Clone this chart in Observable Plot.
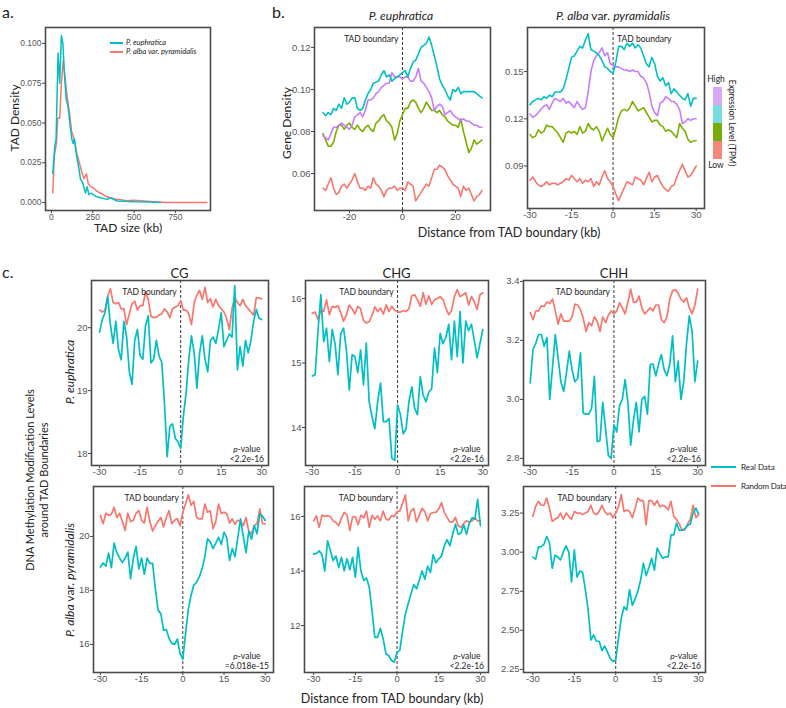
<!DOCTYPE html>
<html><head><meta charset="utf-8">
<script src="https://cdn.jsdelivr.net/npm/d3@7"></script>
<script src="https://cdn.jsdelivr.net/npm/@observablehq/plot@0.6"></script>
<style>
body{margin:0;background:#fff;}
#root{position:relative;width:786px;height:708px;overflow:hidden;font-family:Lato,'Open Sans',sans-serif;color:#222;background:#fff;}
.abs{position:absolute;white-space:nowrap;line-height:1;}
</style></head><body><div id="root"></div>
<script>
// ---------- DATA ----------
const dist = [-30,-29,-28,-27,-26,-25,-24,-23,-22,-21,-20,-19,-18,-17,-16,-15,-14,-13,-12,-11,-10,-9,-8,-7,-6,-5,-4,-3,-2,-1,0,1,2,3,4,5,6,7,8,9,10,11,12,13,14,15,16,17,18,19,20,21,22,23,24,25,26,27,28,29,30];

// panel a: TAD size distribution
const aEuSize = [8,20,28,40,50,60,69,79,89,101,111,123,131,139,151,165,175,190,206,216,226,240,266,296,337,357,397,498,599,659];
const aEuDens = [0.018,0.035,0.040,0.094,0.075,0.105,0.100,0.080,0.065,0.060,0.050,0.040,0.037,0.040,0.030,0.022,0.015,0.012,0.006,0.010,0.005,0.006,0.004,0.003,0.002,0.003,0.001,0.0005,0.0003,0.0001];
const aAlSize = [8,18,30,38,50,60,71,81,91,101,111,121,131,141,155,169,181,196,212,222,236,256,276,296,327,357,397,458,498,558,619,700,800,940];
const aAlDens = [0.006,0.030,0.037,0.053,0.053,0.075,0.089,0.080,0.070,0.062,0.055,0.045,0.042,0.038,0.030,0.025,0.020,0.015,0.018,0.012,0.010,0.009,0.007,0.006,0.004,0.003,0.002,0.0012,0.0015,0.001,0.0005,0,0,0];

// panel b: gene density by expression level
const bEuHigh = [0.078,0.077,0.076,0.079,0.082,0.082,0.083,0.084,0.083,0.082,0.081,0.083,0.087,0.088,0.089,0.087,0.090,0.095,0.095,0.096,0.098,0.099,0.101,0.102,0.103,0.103,0.108,0.106,0.106,0.106,0.105,0.106,0.106,0.104,0.104,0.106,0.110,0.104,0.103,0.101,0.099,0.096,0.090,0.092,0.093,0.092,0.088,0.089,0.090,0.088,0.087,0.086,0.085,0.086,0.085,0.085,0.084,0.083,0.083,0.082,0.082];
const bEuMidHigh = [0.089,0.0875,0.089,0.088,0.091,0.090,0.093,0.091,0.096,0.093,0.094,0.096,0.096,0.091,0.090,0.091,0.095,0.098,0.100,0.103,0.1035,0.104,0.107,0.109,0.106,0.107,0.104,0.105,0.106,0.107,0.108,0.109,0.106,0.110,0.113,0.114,0.117,0.120,0.121,0.122,0.125,0.121,0.116,0.111,0.105,0.102,0.100,0.097,0.095,0.100,0.099,0.101,0.098,0.099,0.099,0.099,0.099,0.099,0.098,0.097,0.096];
const bEuMidLow = [0.079,0.076,0.073,0.073,0.075,0.080,0.083,0.083,0.081,0.083,0.084,0.082,0.081,0.083,0.081,0.080,0.082,0.083,0.081,0.080,0.084,0.085,0.087,0.088,0.085,0.084,0.082,0.076,0.079,0.085,0.088,0.091,0.091,0.094,0.095,0.094,0.091,0.089,0.091,0.094,0.092,0.090,0.090,0.089,0.090,0.088,0.087,0.085,0.084,0.083,0.083,0.082,0.086,0.080,0.075,0.070,0.072,0.076,0.074,0.075,0.076];
const bEuLow = [0.053,0.052,0.055,0.058,0.053,0.050,0.051,0.054,0.055,0.053,0.055,0.057,0.060,0.056,0.053,0.053,0.052,0.054,0.053,0.058,0.055,0.054,0.052,0.049,0.052,0.053,0.053,0.054,0.052,0.053,0.053,0.052,0.056,0.055,0.054,0.047,0.049,0.051,0.053,0.055,0.054,0.058,0.062,0.062,0.064,0.063,0.062,0.059,0.057,0.055,0.054,0.053,0.049,0.054,0.052,0.053,0.050,0.047,0.049,0.050,0.052];

const bAlHigh = [0.123,0.121,0.122,0.124,0.126,0.128,0.129,0.126,0.130,0.133,0.132,0.131,0.133,0.130,0.131,0.129,0.127,0.131,0.128,0.126,0.127,0.137,0.150,0.157,0.160,0.162,0.165,0.160,0.162,0.155,0.154,0.153,0.153,0.152,0.151,0.151,0.150,0.151,0.150,0.150,0.147,0.146,0.143,0.137,0.128,0.124,0.122,0.130,0.131,0.134,0.133,0.131,0.131,0.129,0.126,0.117,0.118,0.120,0.119,0.120,0.120];
const bAlMidHigh = [0.129,0.131,0.132,0.133,0.132,0.134,0.133,0.135,0.134,0.137,0.137,0.137,0.139,0.145,0.152,0.159,0.160,0.163,0.166,0.165,0.170,0.174,0.164,0.163,0.162,0.160,0.157,0.153,0.152,0.150,0.149,0.156,0.166,0.166,0.164,0.168,0.166,0.168,0.165,0.167,0.165,0.160,0.155,0.153,0.159,0.155,0.147,0.144,0.146,0.141,0.143,0.136,0.139,0.137,0.135,0.133,0.132,0.136,0.128,0.133,0.133];
const bAlMidLow = [0.110,0.108,0.109,0.113,0.111,0.112,0.116,0.115,0.115,0.113,0.111,0.108,0.105,0.111,0.112,0.111,0.112,0.110,0.115,0.111,0.112,0.117,0.114,0.113,0.115,0.112,0.106,0.110,0.114,0.110,0.108,0.114,0.121,0.125,0.126,0.125,0.127,0.131,0.128,0.125,0.126,0.127,0.124,0.121,0.118,0.119,0.119,0.116,0.115,0.112,0.113,0.112,0.110,0.108,0.117,0.114,0.112,0.107,0.105,0.106,0.106];
const bAlLow = [0.081,0.083,0.080,0.078,0.077,0.078,0.080,0.078,0.079,0.079,0.078,0.079,0.080,0.082,0.081,0.084,0.082,0.080,0.082,0.079,0.081,0.080,0.082,0.077,0.080,0.078,0.083,0.087,0.082,0.080,0.077,0.072,0.068,0.072,0.076,0.080,0.079,0.078,0.083,0.082,0.081,0.078,0.082,0.086,0.080,0.083,0.084,0.080,0.077,0.075,0.074,0.077,0.078,0.083,0.087,0.091,0.087,0.083,0.084,0.087,0.090];

// panel c: DNA methylation (real vs random)
const cEuCGReal = [19.93,20.13,20.24,20.50,20.05,19.75,20.10,19.65,19.49,20.10,19.85,19.30,19.10,19.80,19.97,19.55,19.50,20.03,20.19,19.44,19.50,19.80,19.55,19.45,18.80,17.95,18.43,18.47,18.24,18.19,18.08,18.60,18.96,19.50,19.87,19.60,19.04,19.60,19.87,19.50,19.30,19.80,19.85,19.75,19.97,20.24,19.70,19.80,19.90,19.85,20.67,19.33,19.70,19.39,19.80,19.60,19.80,20.10,20.29,20.15,20.13];
const cEuCGRand = [20.28,20.25,20.28,20.50,20.62,20.40,20.38,20.40,20.30,20.30,20.05,20.22,20.38,20.42,20.28,20.35,20.35,20.57,20.45,20.18,20.16,20.17,20.20,20.22,20.30,20.25,20.16,20.30,20.33,20.35,20.43,20.28,20.28,20.22,20.05,20.40,20.52,20.59,20.45,20.64,20.40,20.46,20.33,20.45,20.35,20.30,20.25,20.15,19.97,20.30,20.48,20.40,20.35,20.45,20.35,20.30,20.25,20.20,20.48,20.47,20.46];
const cEuCHGReal = [14.80,14.82,15.50,16.06,15.33,15.54,15.02,15.52,15.30,14.82,15.46,15.54,15.20,14.58,15.13,15.10,14.85,15.20,14.66,15.31,14.40,14.17,13.98,14.40,14.69,14.09,14.09,14.14,13.52,13.49,14.35,14.20,13.90,13.98,14.40,14.63,14.30,14.20,14.79,14.50,14.40,14.55,14.60,15.23,14.85,15.46,15.30,15.40,15.60,15.05,15.65,15.10,15.80,15.00,15.65,15.50,15.60,15.35,15.08,15.30,15.52];
const cEuCHGRand = [15.77,15.79,15.67,15.82,15.80,15.98,15.75,15.88,15.86,15.89,15.78,15.65,15.75,15.90,15.84,15.76,15.88,15.84,15.66,15.62,15.64,15.74,15.87,15.80,15.85,15.76,15.90,15.80,15.88,15.82,15.79,15.79,15.81,15.80,15.84,16.04,16.06,15.98,15.88,16.09,15.91,16.04,15.91,15.98,16.00,16.03,15.98,15.85,15.75,15.81,16.03,16.14,16.03,16.06,16.09,15.90,16.03,15.95,15.83,16.06,16.09];
const cEuCHHReal = [3.056,3.17,3.19,3.22,3.22,3.18,3.21,3.00,3.11,3.22,3.14,3.06,3.027,3.09,3.164,3.10,3.06,3.07,3.158,2.953,2.95,2.95,2.97,3.078,2.857,2.86,2.99,2.90,2.81,2.80,2.914,2.89,2.98,3.00,3.067,2.99,2.845,2.93,2.99,2.89,3.00,3.01,2.95,3.118,3.12,3.08,3.12,3.152,3.10,3.08,3.12,3.215,3.06,3.13,3.00,3.06,3.19,3.283,3.23,3.06,3.13];
const cEuCHHRand = [3.294,3.27,3.30,3.30,3.317,3.315,3.33,3.325,3.34,3.30,3.255,3.29,3.265,3.265,3.265,3.28,3.323,3.32,3.305,3.275,3.23,3.26,3.25,3.28,3.265,3.23,3.28,3.26,3.285,3.30,3.29,3.30,3.328,3.31,3.29,3.33,3.374,3.33,3.33,3.35,3.31,3.29,3.30,3.31,3.30,3.32,3.32,3.27,3.26,3.28,3.34,3.368,3.372,3.36,3.34,3.33,3.345,3.31,3.29,3.32,3.374];

const cAlCGReal = [18.87,19.02,18.90,19.38,18.84,19.75,19.40,19.20,19.03,19.20,19.42,18.44,19.20,19.63,18.80,19.20,18.60,19.20,19.00,19.00,18.07,17.27,17.14,16.53,16.55,16.22,16.04,16.00,16.20,15.67,15.45,16.40,17.30,17.82,18.20,18.30,18.50,18.80,19.24,19.91,19.80,19.55,19.75,19.97,19.70,20.16,19.95,19.11,19.55,19.25,19.95,20.65,20.00,19.40,20.20,19.90,20.40,20.10,20.84,20.75,20.59];
const cAlCGRand = [20.78,20.47,20.86,20.78,20.82,21.08,20.70,20.86,20.56,20.22,20.86,20.55,20.60,20.86,20.96,20.60,20.50,21.08,20.56,20.20,20.40,20.56,20.70,20.35,20.70,20.96,20.47,20.60,20.66,20.40,20.90,21.20,21.54,21.15,21.30,20.70,20.65,20.65,21.20,20.90,20.95,20.28,20.55,21.20,20.85,20.90,20.85,20.50,20.65,20.45,20.60,20.56,20.40,20.70,20.20,20.10,20.40,20.47,21.02,20.47,20.47];
const cAlCHGReal = [14.62,14.65,14.74,14.60,14.00,15.11,14.75,14.38,14.55,14.13,14.50,14.01,14.45,14.05,14.50,13.77,14.87,14.00,13.65,13.75,13.40,12.55,11.57,11.57,11.90,11.51,10.96,10.90,10.72,10.66,11.02,11.10,11.80,12.43,12.80,13.16,13.50,13.35,13.65,14.01,13.70,14.18,13.95,14.60,14.30,14.45,14.55,14.93,15.15,14.93,15.35,15.72,15.35,15.40,15.70,15.35,15.75,15.96,15.90,16.63,15.66];
const cAlCHGRand = [15.84,16.02,15.60,16.05,16.00,16.03,16.00,15.84,15.78,15.66,15.95,16.15,16.05,15.48,15.98,16.00,15.70,16.05,15.95,16.20,15.60,16.05,15.90,16.02,15.84,16.20,15.90,15.87,16.03,16.00,16.18,16.20,16.50,16.79,15.84,16.20,16.30,15.80,16.05,16.30,16.18,15.84,16.10,16.15,16.15,16.28,16.51,16.15,15.97,15.80,15.80,15.97,15.66,15.60,15.75,15.84,15.80,15.84,15.95,15.84,15.84];
const cAlCHHReal = [2.968,2.955,3.032,3.035,3.05,3.10,3.06,2.897,2.98,2.97,2.95,3.00,3.04,3.00,2.81,3.015,2.84,2.88,2.87,2.76,2.63,2.438,2.47,2.43,2.43,2.37,2.40,2.36,2.32,2.30,2.31,2.45,2.577,2.65,2.63,2.76,2.66,2.70,2.75,2.82,2.93,2.85,2.90,2.96,2.885,3.026,2.99,2.96,2.97,2.97,3.11,3.11,3.186,3.14,3.14,3.15,3.17,3.18,3.25,3.282,3.245];
const cAlCHHRand = [3.229,3.293,3.325,3.30,3.30,3.346,3.28,3.197,3.21,3.22,3.25,3.21,3.25,3.23,3.21,3.26,3.25,3.25,3.24,3.25,3.26,3.30,3.25,3.24,3.26,3.30,3.26,3.24,3.25,3.22,3.25,3.29,3.368,3.26,3.27,3.26,3.22,3.28,3.346,3.33,3.33,3.175,3.33,3.33,3.30,3.33,3.29,3.30,3.29,3.27,3.325,3.23,3.21,3.18,3.143,3.143,3.18,3.21,3.30,3.22,3.24];

const pValues = ["<2.2e-16","<2.2e-16","<2.2e-16","=6.018e-15","<2.2e-16","<2.2e-16"];
const contexts = ["CG","CHG","CHH"];
const tadLabel = "TAD boundary";

// ---------- STYLE ----------
const CYAN = "#00BFC4", RED = "#F8766D", PURPLE = "#C77CFF", GREEN = "#7CAE00";
const SANS = "'Liberation Sans', Arial, sans-serif";
const CAL = "Lato, 'Open Sans', sans-serif";
const root = document.getElementById("root");

function html(str, x, y, css) {
  const d = document.createElement("div");
  d.className = "abs";
  d.style.left = x + "px"; d.style.top = y + "px";
  d.style.cssText += css || "";
  d.innerHTML = str;
  root.appendChild(d);
  return d;
}
const center = "transform:translate(-50%,-50%);";

function panel(o) {
  const mL = 40, mR = 6, mT = 6, mB = 22;
  const w = o.fr - o.fl, h = o.fb - o.ft;
  const marks = [];
  if (o.boundary) marks.push(Plot.ruleX([0], {stroke: "#222", strokeWidth: 0.9, strokeDasharray: "3,2"}));
  o.series.forEach(s => marks.push(Plot.line(s.y, {x: s.x, y: s.y, stroke: s.color, strokeWidth: o.lw || 1.6})));
  if (o.boundary) marks.push(Plot.text([tadLabel], {x: [0], frameAnchor: "top",
    textAnchor: o.boundary === "right" ? "start" : "end", dx: o.boundary === "right" ? 4 : -4, dy: 8,
    fontSize: 8.5, fontFamily: CAL, fill: "#222"}));
  marks.push(Plot.axisX({ticks: o.xTicks, tickFormat: d => String(d), tickSize: 3, tickPadding: 0,
    fontSize: o.fs, fontFamily: SANS, fill: "#555", stroke: "#444", label: null}));
  marks.push(Plot.axisY({ticks: o.yTicks, tickFormat: d => d.toFixed(o.yDec), tickSize: 3, tickPadding: 1,
    fontSize: o.fs, fontFamily: SANS, fill: "#555", stroke: "#444", label: null}));
  marks.push(Plot.frame({stroke: "#4a4a4a", strokeWidth: 1.6}));
  const svg = Plot.plot({
    width: w + mL + mR, height: h + mT + mB,
    marginLeft: mL, marginRight: mR, marginTop: mT, marginBottom: mB,
    x: {domain: o.xDomain}, y: {domain: o.yDomain},
    style: {background: "transparent", overflow: "visible", fontFamily: SANS},
    marks
  });
  const d = document.createElement("div");
  d.style.position = "absolute";
  d.style.left = (o.fl - mL) + "px"; d.style.top = (o.ft - mT) + "px";
  d.appendChild(svg);
  root.appendChild(d);
}

// ---------- PANEL A ----------
panel({fl: 45, fr: 210, ft: 27, fb: 210, xDomain: [-36, 962], yDomain: [-0.005, 0.110],
  xTicks: [0, 250, 500, 750], yTicks: [0, 0.025, 0.05, 0.075, 0.1], yDec: 3, fs: 8.5, lw: 1.5,
  series: [{x: aAlSize, y: aAlDens, color: RED}, {x: aEuSize, y: aEuDens, color: CYAN}]});
html("a.", 2, 4, "font-size:16px;");
html("TAD Density", 15, 118, "transform:translate(-50%,-50%) rotate(-90deg);font-size:12px;");
html("TAD size (kb)", 128, 228, center + "font-size:12px;");
// legend a
html("", 110, 42, "width:13px;border-top:2px solid " + CYAN + ";");
html("", 110, 51, "width:13px;border-top:2px solid " + RED + ";");
html("<i>P. euphratica</i>", 126, 43, "transform:translateY(-50%);font-size:7.5px;");
html("<i>P. alba var. pyramidalis</i>", 126, 52, "transform:translateY(-50%);font-size:7.5px;");

// ---------- PANEL B ----------
panel({fl: 314, fr: 490, ft: 27, fb: 210, xDomain: [-33.2, 33.2], yDomain: [0.0424, 0.1295],
  xTicks: [-20, 0, 20], yTicks: [0.06, 0.08, 0.10, 0.12], yDec: 2, fs: 9.5, boundary: "left",
  series: [{x: dist, y: bEuLow, color: RED}, {x: dist, y: bEuMidLow, color: GREEN},
           {x: dist, y: bEuHigh, color: PURPLE}, {x: dist, y: bEuMidHigh, color: CYAN}]});
panel({fl: 527, fr: 704, ft: 27, fb: 208, xDomain: [-30.9, 33], yDomain: [0.063, 0.178],
  xTicks: [-30, -15, 0, 15, 30], yTicks: [0.09, 0.12, 0.15], yDec: 2, fs: 9.5, boundary: "right",
  series: [{x: dist, y: bAlLow, color: RED}, {x: dist, y: bAlMidLow, color: GREEN},
           {x: dist, y: bAlHigh, color: PURPLE}, {x: dist, y: bAlMidHigh, color: CYAN}]});
html("b.", 272, 4, "font-size:16px;");
html("<i>P. euphratica</i>", 401, 16, center + "font-size:12px;");
html("<i>P. alba</i> var. <i>pyramidalis</i>", 613, 16, center + "font-size:12px;");
html("Gene Density", 287, 123, "transform:translate(-50%,-50%) rotate(-90deg);font-size:12px;");
html("Distance from TAD boundary (kb)", 509, 233, center + "font-size:12.5px;");
// expression legend
html("High", 716, 79, center + "font-size:8.5px;");
html("Low", 716, 165, center + "font-size:8.5px;");
html("", 713, 87, "width:9px;height:18px;background:#D9A9F7;");
html("", 713, 105, "width:9px;height:18px;background:#76DCDF;");
html("", 713, 123, "width:9px;height:18px;background:#79AB0C;");
html("", 713, 141, "width:9px;height:18px;background:#F4867C;");
html("Expression Level (TPM)", 732, 123, "transform:translate(-50%,-50%) rotate(90deg);font-size:8.5px;");

// ---------- PANEL C ----------
const cPanels = [
  {fl: 91, fr: 268, ft: 280, fb: 465, xDomain: [-33, 32.5], yDomain: [17.81, 20.75], yTicks: [18, 19, 20], yDec: 0, real: cEuCGReal, rand: cEuCGRand},
  {fl: 305, fr: 488, ft: 280, fb: 465, xDomain: [-32.4, 32.0], yDomain: [13.41, 16.28], yTicks: [14, 15, 16], yDec: 0, real: cEuCHGReal, rand: cEuCHGRand},
  {fl: 523, fr: 705, ft: 280, fb: 465, xDomain: [-32.4, 32.8], yDomain: [2.776, 3.403], yTicks: [2.8, 3.0, 3.2, 3.4], yDec: 1, real: cEuCHHReal, rand: cEuCHHRand},
  {fl: 93, fr: 273, ft: 486, fb: 672, xDomain: [-32.5, 33], yDomain: [14.96, 21.85], yTicks: [16, 18, 20], yDec: 0, real: cAlCGReal, rand: cAlCGRand},
  {fl: 304, fr: 488, ft: 486, fb: 672, xDomain: [-33.3, 32.9], yDomain: [10.28, 17.1], yTicks: [12, 14, 16], yDec: 0, real: cAlCHGReal, rand: cAlCHGRand},
  {fl: 523, fr: 705, ft: 486, fb: 672, xDomain: [-33.4, 32.5], yDomain: [2.23, 3.42], yTicks: [2.25, 2.5, 2.75, 3.0, 3.25], yDec: 2, real: cAlCHHReal, rand: cAlCHHRand}
];
cPanels.forEach((p, i) => {
  panel({...p, xTicks: [-30, -15, 0, 15, 30], fs: 9.5, lw: 1.7, boundary: "left",
    series: [{x: dist, y: p.rand, color: RED}, {x: dist, y: p.real, color: CYAN}]});
  html("<i>p</i>-value<br>" + pValues[i], p.fr - 4, p.fb - 1,
    "transform:translate(-100%,-100%);text-align:center;font-size:8.5px;line-height:10px;");
  if (i < 3) html(contexts[i], (p.fl + p.fr) / 2, 273, center + "font-size:13px;");
});
html("c.", 2, 264, "font-size:16px;");
html("<i>P. euphratica</i>", 70, 372, "transform:translate(-50%,-50%) rotate(-90deg);font-size:12px;");
html("<i>P. alba</i> var. <i>pyramidalis</i>", 70, 580, "transform:translate(-50%,-50%) rotate(-90deg);font-size:12px;");
html("DNA Methylation Modification Levels<br>around TAD Boundaries", 37, 480,
  "transform:translate(-50%,-50%) rotate(-90deg);font-size:11px;line-height:14px;text-align:center;");
html("Distance from TAD boundary (kb)", 392, 699, center + "font-size:12.5px;");
// real/random legend
html("", 711, 467, "width:25px;border-top:2px solid " + CYAN + ";transform:translateY(-1px);");
html("", 711, 486, "width:25px;border-top:2px solid " + RED + ";transform:translateY(-1px);");
html("Real Data", 741, 467, "transform:translateY(-50%);font-size:8px;");
html("Random Data", 741, 486, "transform:translateY(-50%);font-size:8px;letter-spacing:-0.2px;");
</script></body></html>
